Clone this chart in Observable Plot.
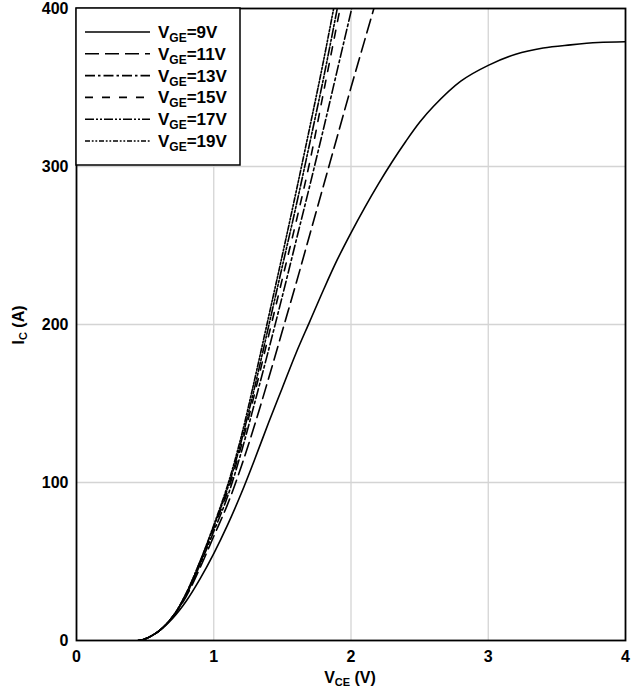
<!DOCTYPE html>
<html><head><meta charset="utf-8">
<script src="https://cdn.jsdelivr.net/npm/d3@7"></script>
<script src="https://cdn.jsdelivr.net/npm/@observablehq/plot@0.6"></script>
<style>body{margin:0;background:#fff;font-family:"Liberation Sans",Arial,sans-serif;}</style>
</head><body><div id="chart"></div>
<script>
// Gate voltage series labels and line styles
const seriesLabels = ["9V", "11V", "13V", "15V", "17V", "19V"];
const seriesDashes = [null, "14,6", "10,3,2.5,3", "8,9", "9,2,2,2,2,2", "5,1.8,1.8,1.8,1.8,1.8"];

// [V_CE (V), I_C (A)]
const vge9 = [[0.45,0],[0.5,1],[0.6,6],[0.7,14],[0.8,25],[0.9,39],[1.0,55],[1.1,73],[1.2,93],[1.3,115],[1.4,138],[1.5,160],[1.6,182],[1.7,202],[1.8,222],[1.9,241],[2.0,258],[2.1,274],[2.2,289],[2.3,303],[2.4,316],[2.5,328],[2.6,338],[2.8,354],[3.0,364],[3.2,371],[3.4,375],[3.6,377],[3.8,378.5],[4.0,379]];
const vge11 = [[0.45,0],[0.5,1],[0.6,6],[0.7,15],[0.8,28],[0.9,46],[1.0,66],[1.1,86],[1.2,110],[1.3,137],[1.4,166],[1.5,196],[1.6,226],[1.7,257],[1.8,288],[1.9,319],[2.0,350],[2.1,380],[2.2,410]];
const vge13 = [[0.45,0],[0.5,1],[0.6,6],[0.7,15],[0.8,29],[0.9,48],[1.0,69],[1.1,91],[1.2,119],[1.3,151],[1.4,184],[1.5,218],[1.6,253],[1.7,288],[1.8,324],[1.9,361],[2.0,398],[2.1,435]];
const vge15 = [[0.45,0],[0.5,1],[0.6,6],[0.7,15],[0.8,29],[0.9,49],[1.0,71],[1.1,94],[1.2,123],[1.3,157],[1.4,193],[1.5,229],[1.6,265],[1.7,303],[1.8,347],[1.9,391],[2.0,436]];
const vge17 = [[0.45,0],[0.5,1],[0.6,6],[0.7,15],[0.8,30],[0.9,50],[1.0,72],[1.1,96],[1.2,126],[1.3,161],[1.4,199],[1.5,237],[1.6,275],[1.7,315],[1.8,356],[1.9,400],[2.0,445]];
const vge19 = [[0.45,0],[0.5,1],[0.6,6],[0.7,15],[0.8,30],[0.9,50],[1.0,73],[1.1,98],[1.2,129],[1.3,166],[1.4,205],[1.5,244],[1.6,284],[1.7,325],[1.8,367],[1.9,412]];

const xTicks = [0, 1, 2, 3, 4];
const yTicks = [0, 100, 200, 300, 400];

const series = [vge9, vge11, vge13, vge15, vge17, vge19];

const W = 640, H = 691, mL = 76, mR = 15, mT = 8, mB = 51;

const lineMarks = series.map((d, i) => Plot.line(d, {
  x: p => p[0], y: p => p[1],
  stroke: "black", strokeWidth: 1.6,
  strokeDasharray: seriesDashes[i] || undefined,
  curve: "catmull-rom", clip: true
}));

const chart = Plot.plot({
  width: W, height: H,
  marginLeft: mL, marginRight: mR, marginTop: mT, marginBottom: mB,
  style: {fontFamily: "'Liberation Sans', Arial, sans-serif", background: "white", overflow: "visible"},
  x: {domain: [0, 4]},
  y: {domain: [0, 400]},
  marks: [
    Plot.gridX(xTicks.slice(1, -1), {stroke: "#d4d4d4", strokeOpacity: 1, strokeWidth: 1.3}),
    Plot.gridY(yTicks.slice(1, -1), {stroke: "#d4d4d4", strokeOpacity: 1, strokeWidth: 1.3}),
    ...lineMarks,
    Plot.frame({stroke: "black", strokeWidth: 1.8}),
    Plot.axisX(xTicks, {tickSize: 0, tickPadding: 10, fontSize: 16, fontWeight: "bold", fill: "black", label: null, tickFormat: d => String(d)}),
    Plot.axisY(yTicks, {tickSize: 0, tickPadding: 8, fontSize: 16, fontWeight: "bold", fill: "black", label: null, tickFormat: d => String(d)})
  ]
});

document.getElementById("chart").appendChild(chart);

const svg = d3.select(chart);
const font = "'Liberation Sans', Arial, sans-serif";

// Axis titles with subscripts
const xt = svg.append("text").attr("x", 350).attr("y", 683).attr("text-anchor", "middle")
  .attr("font-family", font).attr("font-size", 16).attr("font-weight", "bold").attr("fill", "black");
xt.append("tspan").text("V");
xt.append("tspan").attr("font-size", 11).attr("dy", 3).text("CE");
xt.append("tspan").attr("dy", -3).text(" (V)");

const yt = svg.append("text").attr("transform", "translate(24,325) rotate(-90)").attr("text-anchor", "middle")
  .attr("font-family", font).attr("font-size", 16).attr("font-weight", "bold").attr("fill", "black");
yt.append("tspan").text("I");
yt.append("tspan").attr("font-size", 11).attr("dy", 3).text("C");
yt.append("tspan").attr("dy", -3).text(" (A)");

// Legend box inside the plot
const lg = svg.append("g");
lg.append("rect").attr("x", mL).attr("y", mT).attr("width", 164).attr("height", 157)
  .attr("fill", "white").attr("stroke", "black").attr("stroke-width", 1.5);
seriesLabels.forEach((lab, i) => {
  const cy = 32 + i * 21.8;
  lg.append("line").attr("x1", 85).attr("x2", 150).attr("y1", cy).attr("y2", cy)
    .attr("stroke", "black").attr("stroke-width", 1.6)
    .attr("stroke-dasharray", seriesDashes[i] || null);
  const t = lg.append("text").attr("x", 158).attr("y", cy + 6).attr("text-anchor", "start")
    .attr("font-family", font).attr("font-size", 17).attr("font-weight", "bold").attr("fill", "black");
  t.append("tspan").text("V");
  t.append("tspan").attr("font-size", 12).attr("dy", 4).text("GE");
  t.append("tspan").attr("dy", -4).text("=" + lab);
});
</script>
</body></html>
